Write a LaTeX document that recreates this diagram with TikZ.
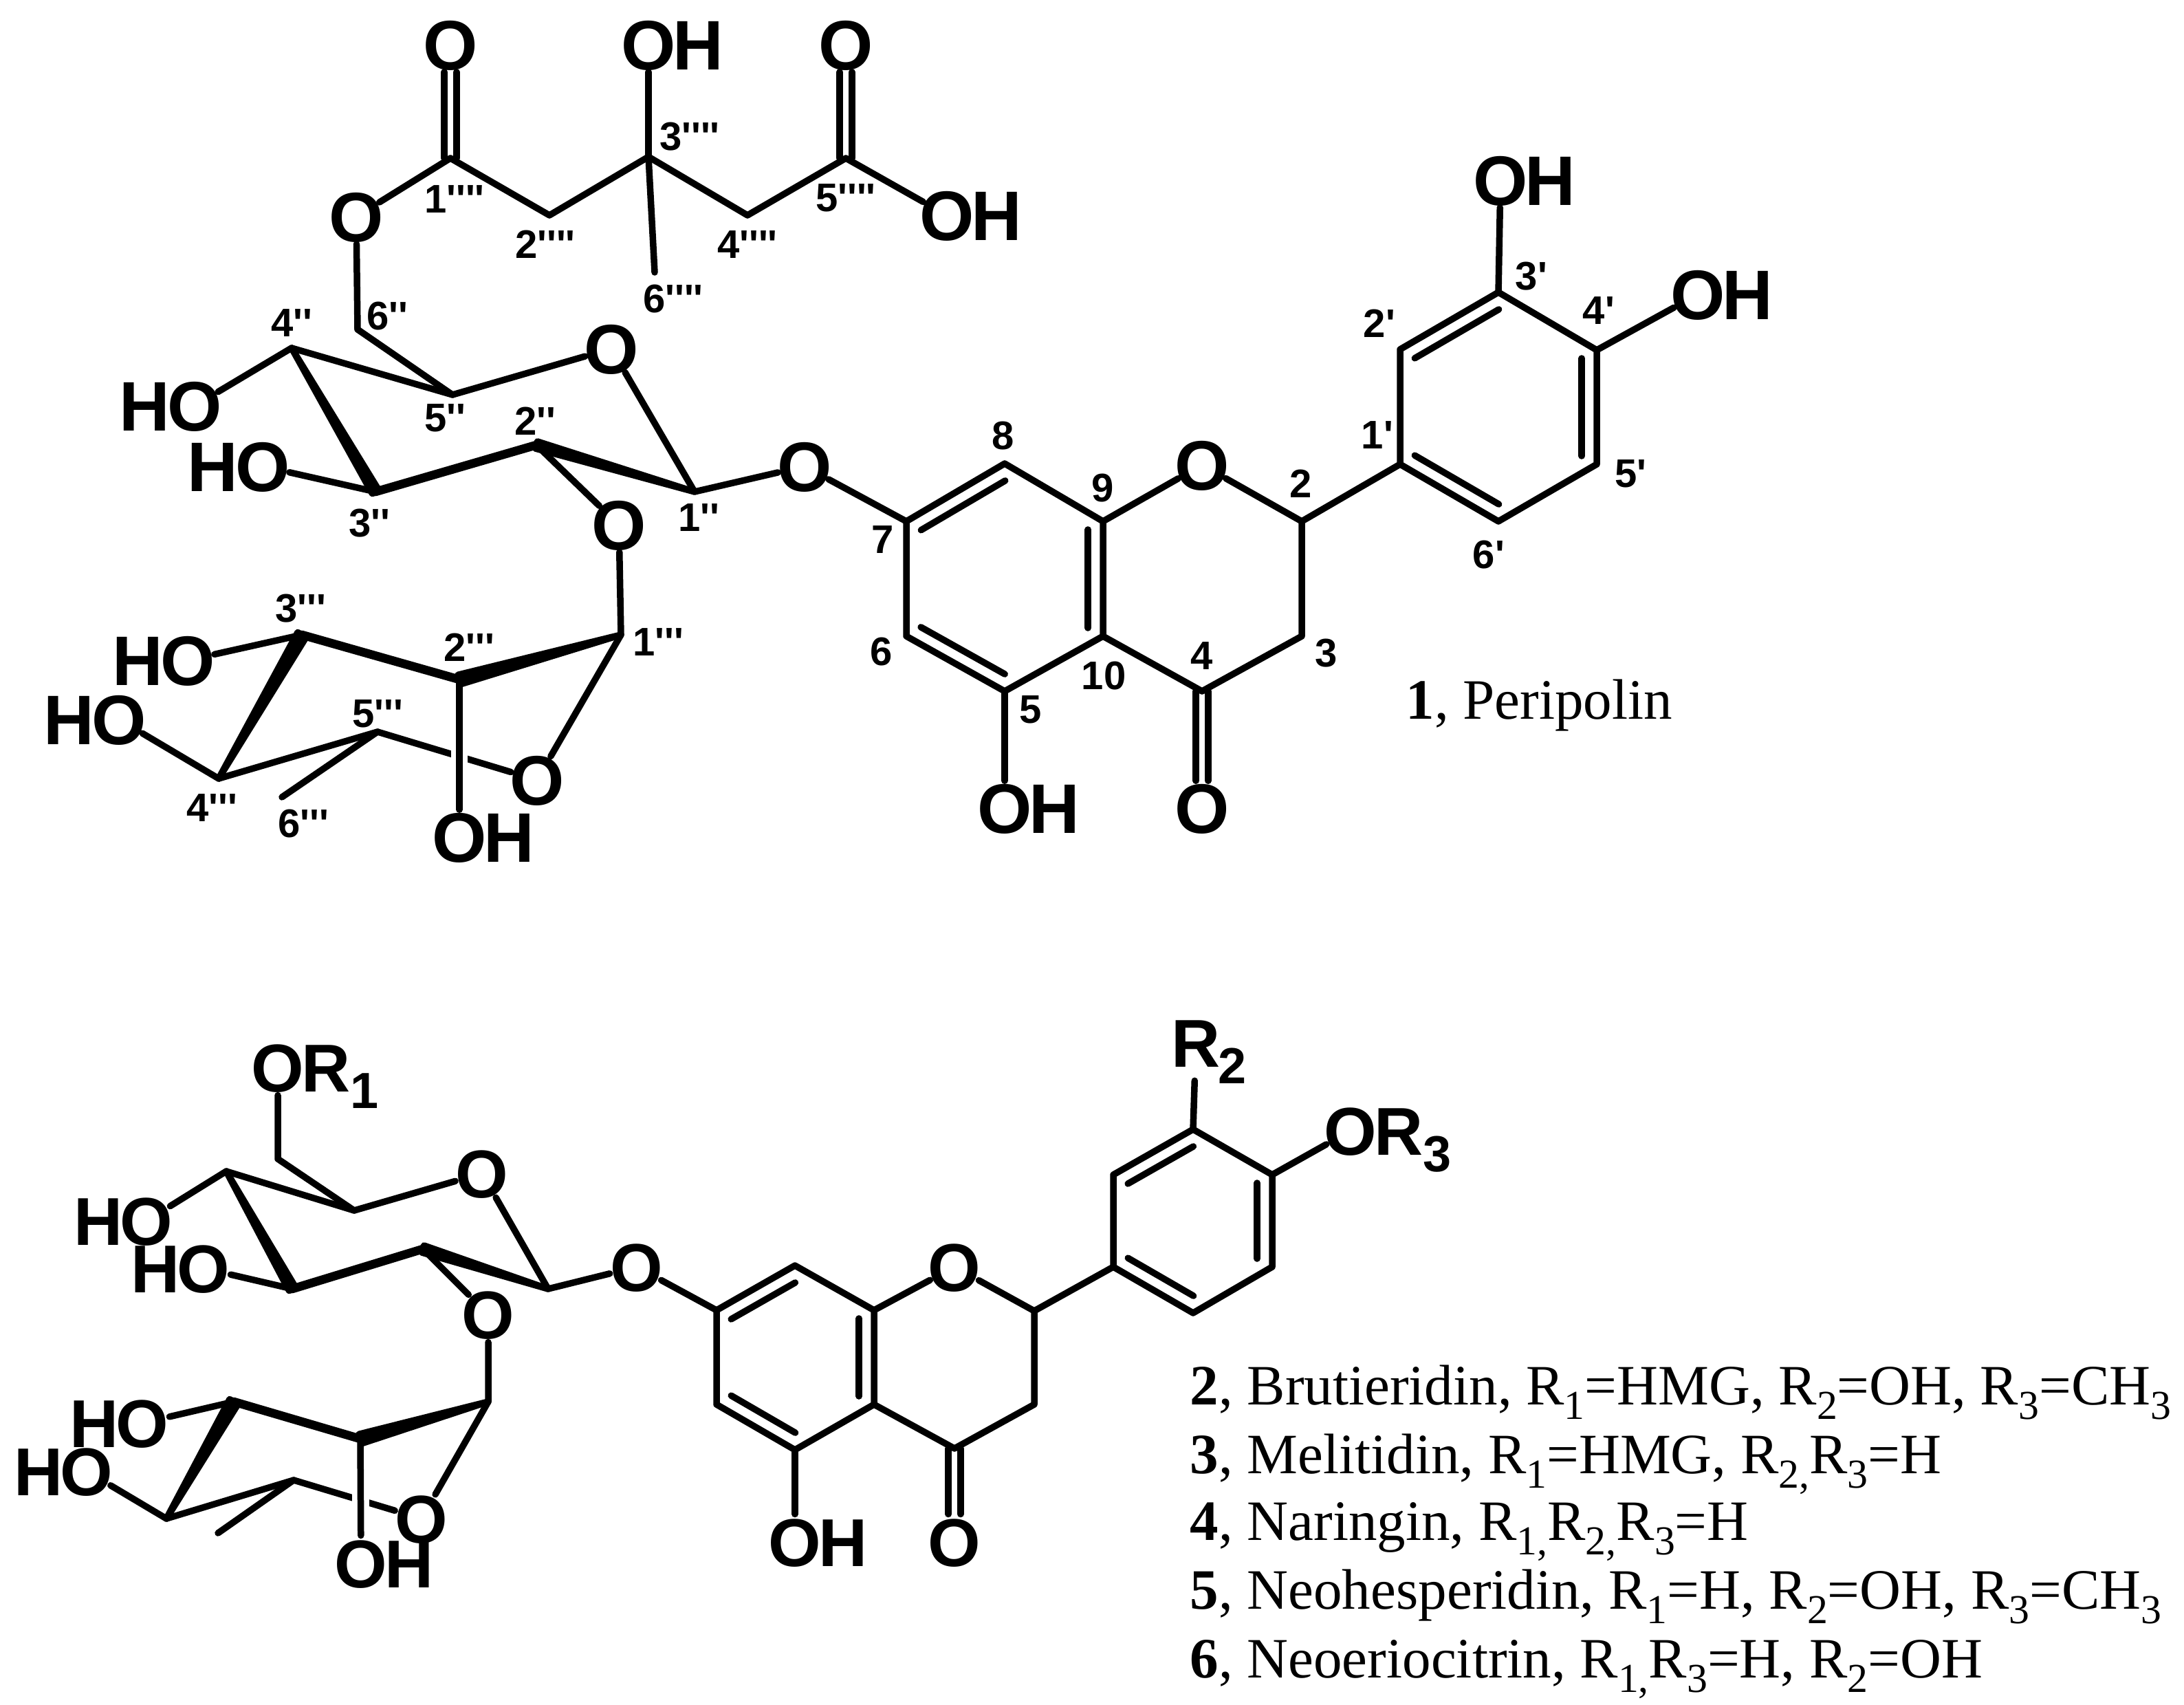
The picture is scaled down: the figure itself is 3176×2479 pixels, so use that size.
\documentclass[tikz,border=0pt]{standalone}
\usepackage{fontspec}
\setmainfont{Liberation Serif}
\newfontfamily\atomfam{Liberation Sans}
\usetikzlibrary{calc}
\usetikzlibrary{positioning}

\newcommand{\inbond}[2]{\draw[shorten >=3.4pt,shorten <=3.4pt] ($(#1)!6.2pt!90:(#2)$) -- ($(#2)!6.2pt!-90:(#1)$);}
\newcommand{\cobond}[3]{\draw ([xshift=-2.5pt]#1) -- ([xshift=-2.5pt]#2.#3); \draw ([xshift=2.5pt]#1) -- ([xshift=2.5pt]#2.#3);}
\newcommand{\wedgebond}[3]{\filldraw (#1) -- ($(#2)!#3!90:(#1)$) -- ($(#2)!#3!-90:(#1)$) -- cycle;}
\newcommand{\atomsub}[1]{\raisebox{-6.8pt}{\fontsize{21}{21}\selectfont #1}}
\newcommand{\rsub}[1]{\raisebox{-6pt}{\fontsize{17}{17}\selectfont #1}}

\begin{document}
\begin{tikzpicture}[x=0.01cm,y=-0.01cm,line width=2.7pt,line cap=round,line join=round]
\tikzstyle{atom} = [circle, inner sep=-2.85pt, outer sep=0pt, text height=20.8pt, text depth=0pt,
font=\atomfam\bfseries\fontsize{29}{29}\selectfont];
\tikzstyle{tail} = [inner sep=0pt, outer sep=0pt, label distance=-1.2pt, text height=20.8pt, text depth=0pt,
font=\atomfam\bfseries\fontsize{29}{29}\selectfont];
\tikzstyle{batom} = [circle, inner sep=-2.3pt, outer sep=0pt, text height=20pt, text depth=0pt,
font=\atomfam\bfseries\fontsize{28}{28}\selectfont];
\tikzstyle{btail} = [inner sep=0pt, outer sep=0pt, label distance=-1.6pt, text height=20pt, text depth=0pt,
font=\atomfam\bfseries\fontsize{28}{28}\selectfont];
\tikzstyle{num} = [inner sep=0pt, font=\atomfam\bfseries\fontsize{16.5}{16.5}\selectfont];
\tikzstyle{caption} = [inner sep=0pt, anchor=base west, font=\fontsize{23.6}{23.6}\selectfont];
\tikzstyle{gap} = [white, line width=7pt, line cap=butt];
\tikzstyle{thickbond} = [line width=3.6pt];
\useasboundingbox (0,0) rectangle (3176,2479);
% acid chain
\node [atom] (o1q) at (655,65) {O};
\node [atom,label={[tail]right:H}] (oh3q) at (943,65) {O};
\node [atom] (o5q) at (1230,65) {O};
\node [atom,label={[tail]right:H}] (oh5q) at (1377,313) {O};
\node [atom] (oest) at (518,315) {O};
\coordinate (c1q) at (655,230);
\coordinate (c2q) at (799,313);
\coordinate (c3q) at (943,228);
\coordinate (c4q) at (1087,313);
\coordinate (c5q) at (1230,230);
\coordinate (c6q) at (952,396);
% first sugar
\coordinate (c1s) at (1010,715);
\coordinate (c2s) at (780,647);
\coordinate (c3s) at (546,715);
\coordinate (c4s) at (424,506);
\coordinate (c5s) at (658,574);
\coordinate (c6s) at (520,479);
\node [atom] (ors) at (889,507) {O};
\node [atom,label={[tail]left:H}] (oh4s) at (283,590) {O};
\node [atom,label={[tail]left:H}] (oh3s) at (382,678) {O};
\node [atom] (ogly) at (900,763) {O};
\node [atom] (olink) at (1170,678) {O};
% second sugar
\coordinate (c1t) at (903,923);
\coordinate (c2t) at (668,988);
\coordinate (c3t) at (439,923);
\coordinate (c4t) at (318,1132);
\coordinate (c5t) at (549,1064);
\coordinate (c6t) at (410,1159);
\node [atom] (ort) at (781,1134) {O};
\node [atom,label={[tail]right:H}] (oh2t) at (668,1217) {O};
\node [atom,label={[tail]left:H}] (oh3t) at (273,960) {O};
\node [atom,label={[tail]left:H}] (oh4t) at (173,1046) {O};
% flavanone
\coordinate (c2) at (1893,758);
\coordinate (c3) at (1893,925);
\coordinate (c4) at (1748,1005);
\coordinate (c5) at (1461,1005);
\coordinate (c6) at (1318,925);
\coordinate (c7) at (1318,758);
\coordinate (c8) at (1461,674);
\coordinate (c9) at (1604,758);
\coordinate (c10) at (1604,925);
\coordinate (c1p) at (2036,675);
\coordinate (c2p) at (2036,508);
\coordinate (c3p) at (2179,425);
\coordinate (c4p) at (2322,509);
\coordinate (c5p) at (2322,675);
\coordinate (c6p) at (2179,758);
\node [atom] (o1) at (1748,676) {O};
\node [atom] (o4) at (1748,1175) {O};
\node [atom,label={[tail]right:H}] (oh5) at (1461,1175) {O};
\node [atom,label={[tail]right:H}] (oh3p) at (2182,262) {O};
\node [atom,label={[tail]right:H}] (oh4p) at (2469,428) {O};

\draw (c1q) -- (oest);
\draw (oest) -- (c6s);
\draw (c1q) -- (c2q) -- (c3q) -- (c4q) -- (c5q) -- (oh5q);
\draw (c3q) -- (oh3q);
\draw (c3q) -- (c6q);
\cobond{c1q}{o1q}{south}
\cobond{c5q}{o5q}{south}
\draw (c6s) -- (c5s);
\draw (c4s) -- (c5s) -- (ors) -- (c1s) -- (olink) -- (c7);
\draw (c4s) -- (oh4s);
\draw (c3s) -- (oh3s);
\draw (c2s) -- (ogly) -- (c1t);
\draw[thickbond] (c3s) -- (c2s);
\wedgebond{c4s}{c3s}{1.5pt}
\wedgebond{c1s}{c2s}{1.5pt}
\draw (c3t) -- (oh3t);
\draw (c4t) -- (oh4t);
\draw (c1t) -- (ort) -- (c5t) -- (c4t);
\draw (c5t) -- (c6t);
\draw[gap] (c2t) -- (oh2t);
\draw (c2t) -- (oh2t);
\draw[thickbond] (c3t) -- (c2t);
\wedgebond{c1t}{c2t}{2pt}
\wedgebond{c4t}{c3t}{2pt}
\draw (c7) -- (c8) -- (c9) -- (c10) -- (c5) -- (c6) -- (c7);
\inbond{c8}{c7}
\inbond{c6}{c5}
\inbond{c10}{c9}
\draw (c9) -- (o1) -- (c2) -- (c3) -- (c4) -- (c10);
\draw (c5) -- (oh5);
\cobond{c4}{o4}{north}
\draw (c2) -- (c1p) -- (c2p) -- (c3p) -- (c4p) -- (c5p) -- (c6p) -- (c1p);
\inbond{c3p}{c2p}
\inbond{c5p}{c4p}
\inbond{c1p}{c6p}
\draw (c3p) -- (oh3p);
\draw (c4p) -- (oh4p);

% numbers, upper structure
\node [num] (n8) at (1459,634) {8};
\node [num] (n7) at (1284,785) {7};
\node [num] (n6) at (1282,948) {6};
\node [num] (n5) at (1499,1032) {5};
\node [num] (n10) at (1605,983) {10};
\node [num] (n9) at (1604,710) {9};
\node [num] (n2) at (1892,703) {2};
\node [num] (n3) at (1929,950) {3};
\node [num] (n4) at (1748,954) {4};
\node [num] (n1p) at (2003,633) {1'};
\node [num] (n2p) at (2006,470) {2'};
\node [num] (n3p) at (2227,402) {3'};
\node [num] (n4p) at (2325,452) {4'};
\node [num] (n5p) at (2371,689) {5'};
\node [num] (n6p) at (2165,807) {6'};
\node [num] (n1q) at (661,290) {1''''};
\node [num] (n2q) at (793,355) {2''''};
\node [num] (n3q) at (1003,199) {3''''};
\node [num] (n4q) at (1087,356) {4''''};
\node [num] (n5q) at (1230,288) {5''''};
\node [num] (n6q) at (979,435) {6''''};
\node [num] (n6s) at (563,460) {6''};
\node [num] (n4s) at (424,470) {4''};
\node [num] (n5s) at (647,608) {5''};
\node [num] (n2s) at (778,612) {2''};
\node [num] (n3s) at (537,761) {3''};
\node [num] (n1s) at (1016,753) {1''};
\node [num] (n3t) at (437,885) {3'''};
\node [num] (n2t) at (682,941) {2'''};
\node [num] (n1t) at (957,934) {1'''};
\node [num] (n5t) at (549,1038) {5'''};
\node [num] (n4t) at (308,1175) {4'''};
\node [num] (n6t) at (441,1198) {6'''};
\node [caption] (cap1) at (2040,1045) {\textbf{1}, Peripolin};

% lower structure, sugars
\coordinate (bc6s) at (404,1685);
\coordinate (bc4s) at (329,1703);
\coordinate (bc5s) at (515,1760);
\coordinate (bc1s) at (797,1874);
\coordinate (bc2s) at (615,1816);
\coordinate (bc3s) at (425,1874);
\node [batom,label={[btail]right:R\atomsub{1}}] (bor1) at (404,1552) {O};
\node [batom] (bors) at (701,1706) {O};
\node [batom,label={[btail]left:H}] (boh4s) at (213,1775) {O};
\node [batom,label={[btail]left:H}] (boh3s) at (296,1844) {O};
\node [batom] (bogly) at (710,1911) {O};
\node [batom] (bolink) at (926,1842) {O};
\coordinate (bc1t) at (710,2038);
\coordinate (bc2t) at (524,2092);
\coordinate (bc3t) at (340,2038);
\coordinate (bc4t) at (242,2208);
\coordinate (bc5t) at (427,2152);
\coordinate (bc6t) at (317,2229);
\node [batom] (bort) at (613,2208) {O};
\node [batom,label={[btail]right:H}] (boh2t) at (525,2273) {O};
\node [batom,label={[btail]left:H}] (boh3t) at (207,2069) {O};
\node [batom,label={[btail]left:H}] (boh4t) at (126,2139) {O};
% lower structure, flavanone
\coordinate (bc7) at (1042,1905);
\coordinate (bc8) at (1156,1840);
\coordinate (bc9) at (1271,1905);
\coordinate (bc10) at (1271,2042);
\coordinate (bc5) at (1156,2108);
\coordinate (bc6) at (1042,2042);
\coordinate (bc2) at (1504,1906);
\coordinate (bc3) at (1504,2042);
\coordinate (bc4) at (1388,2106);
\coordinate (bc1p) at (1619,1842);
\coordinate (bc2p) at (1619,1708);
\coordinate (bc3p) at (1735,1642);
\coordinate (bc4p) at (1850,1708);
\coordinate (bc5p) at (1850,1842);
\coordinate (bc6p) at (1735,1909);
\node [batom] (bo1) at (1388,1842) {O};
\node [batom] (bo4) at (1388,2242) {O};
\node [batom,label={[btail]right:H}] (boh5) at (1156,2242) {O};
\node [batom,label={[btail]right:\atomsub{2}}] (br2) at (1739,1516) {R};
\node [batom,label={[btail]right:R\atomsub{3}}] (bor3) at (1964,1644) {O};

\draw (bor1) -- (bc6s) -- (bc5s);
\draw (bc4s) -- (bc5s) -- (bors) -- (bc1s) -- (bolink) -- (bc7);
\draw (bc4s) -- (boh4s);
\draw (bc3s) -- (boh3s);
\draw (bc2s) -- (bogly) -- (bc1t);
\draw[thickbond] (bc3s) -- (bc2s);
\wedgebond{bc4s}{bc3s}{1.5pt}
\wedgebond{bc1s}{bc2s}{1.5pt}
\draw (bc3t) -- (boh3t);
\draw (bc4t) -- (boh4t);
\draw (bc1t) -- (bort) -- (bc5t) -- (bc4t);
\draw (bc5t) -- (bc6t);
\draw[gap] (bc2t) -- (boh2t);
\draw (bc2t) -- (boh2t);
\draw[thickbond] (bc3t) -- (bc2t);
\wedgebond{bc1t}{bc2t}{2pt}
\wedgebond{bc4t}{bc3t}{2pt}
\draw (bc7) -- (bc8) -- (bc9) -- (bc10) -- (bc5) -- (bc6) -- (bc7);
\inbond{bc8}{bc7}
\inbond{bc6}{bc5}
\inbond{bc10}{bc9}
\draw (bc9) -- (bo1) -- (bc2) -- (bc3) -- (bc4) -- (bc10);
\draw (bc5) -- (boh5);
\cobond{bc4}{bo4}{north}
\draw (bc2) -- (bc1p) -- (bc2p) -- (bc3p) -- (bc4p) -- (bc5p) -- (bc6p) -- (bc1p);
\inbond{bc3p}{bc2p}
\inbond{bc5p}{bc4p}
\inbond{bc1p}{bc6p}
\draw[shorten >=4.8pt] (bc3p) -- (br2);
\draw (bc4p) -- (bor3);

% compound list
\node [caption] (cap2) at (1726,2042) {\textbf{2}, Brutieridin, R\rsub{1}=HMG, R\rsub{2}=OH, R\rsub{3}=CH\rsub{3}};
\node [caption] (cap3) at (1726,2142) {\textbf{3}, Melitidin, R\rsub{1}=HMG, R\rsub{2,}R\rsub{3}=H};
\node [caption] (cap4) at (1726,2239) {\textbf{4}, Naringin, R\rsub{1,}R\rsub{2,}R\rsub{3}=H};
\node [caption] (cap5) at (1726,2339) {\textbf{5}, Neohesperidin, R\rsub{1}=H, R\rsub{2}=OH, R\rsub{3}=CH\rsub{3}};
\node [caption] (cap6) at (1726,2439) {\textbf{6}, Neoeriocitrin, R\rsub{1,}R\rsub{3}=H, R\rsub{2}=OH};
\end{tikzpicture}
\end{document}
